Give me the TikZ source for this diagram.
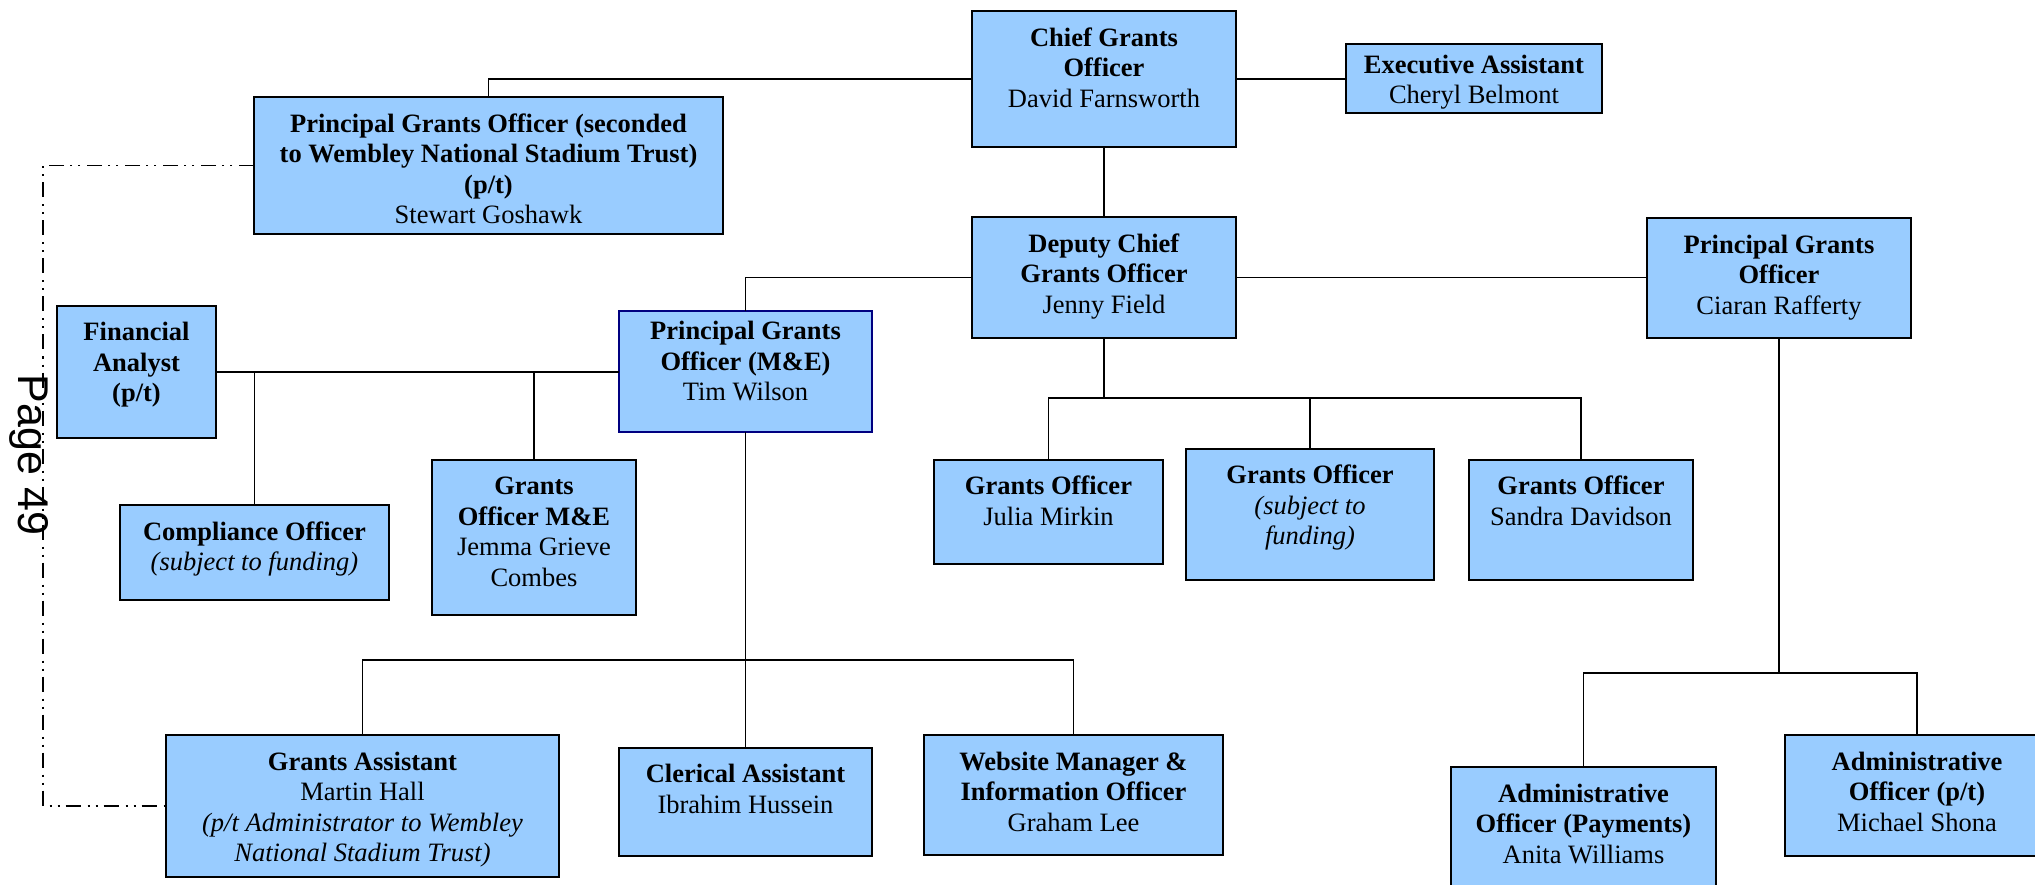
\documentclass[tikz,border=0pt]{standalone}
\usepackage{fontspec}
\setmainfont{Liberation Serif}
\newfontfamily\pagefont{Liberation Sans}
\definecolor{boxblue}{RGB}{153,204,255}
\definecolor{navyline}{RGB}{0,0,128}
\tikzset{
  ob/.style={draw=black, line width=2pt, fill=boxblue, inner sep=0pt, outer sep=0pt,
    font=\fontsize{26.5}{30.5}\selectfont},
  navyedge/.style={draw=navyline},
  plain/.style={},
  link/.style={draw=black, line width=1.6pt},
  dotlink/.style={draw=black, line width=1.6pt, dash pattern=on 15pt off 7pt on 2pt off 6pt on 2pt off 6pt},
}
% name, x1, y1, x2, y2, pad, style, text
\newcommand{\orgbox}[8]{%
  \node[ob,#7,anchor=north west] (#1) at (#2,#3)
    {\parbox[b][\dimexpr #5pt-#3pt\relax][t]{\dimexpr #4pt-#2pt\relax}{\centering\vspace*{#6pt}\strut #8}};%
}
\begin{document}
\begin{tikzpicture}[x=1pt,y=-1pt]
\useasboundingbox (0,0) rectangle (2035,885);
\fill[white] (0,0) rectangle (2035,885);
\clip (0,0) rectangle (2035,885);

\orgbox{chief}{972}{11}{1236}{147}{14}{plain}{\textbf{Chief Grants}\\\textbf{Officer}\\David Farnsworth}
\orgbox{exec}{1346}{44}{1602}{113}{8}{plain}{\textbf{Executive Assistant}\\Cheryl Belmont}
\orgbox{pgos}{254}{97}{723}{234}{14}{plain}{\textbf{Principal Grants Officer (seconded}\\\textbf{to Wembley National Stadium Trust)}\\\textbf{(p/t)}\\Stewart Goshawk}
\orgbox{deputy}{972}{217}{1236}{338}{14}{plain}{\textbf{Deputy Chief}\\\textbf{Grants Officer}\\Jenny Field}
\orgbox{pgoc}{1647}{218}{1911}{338}{14}{plain}{\textbf{Principal Grants}\\\textbf{Officer}\\Ciaran Rafferty}
\orgbox{fa}{57}{306}{216}{438}{13.5}{plain}{\textbf{Financial}\\\textbf{Analyst}\\\textbf{(p/t)}}
\orgbox{pgome}{619}{311}{872}{432}{7.5}{navyedge}{\textbf{Principal Grants}\\\textbf{Officer (M\&E)}\\Tim Wilson}
\orgbox{comp}{120}{505}{389}{600}{14}{plain}{\textbf{Compliance Officer}\\\textit{(subject to funding)}}
\orgbox{gome}{432}{460}{636}{615}{13.5}{plain}{\textbf{Grants}\\\textbf{Officer M\&E}\\Jemma Grieve\\Combes}
\orgbox{julia}{934}{460}{1163}{564}{13.5}{plain}{\textbf{Grants Officer}\\Julia Mirkin}
\orgbox{gosf}{1186}{449}{1434}{580}{13.5}{plain}{\textbf{Grants Officer}\\\textit{(subject to}\\\textit{funding)}}
\orgbox{sandra}{1469}{460}{1693}{580}{13.5}{plain}{\textbf{Grants Officer}\\Sandra Davidson}
\orgbox{ga}{166}{735}{559}{877}{14}{plain}{\textbf{Grants Assistant}\\Martin Hall\\\textit{(p/t Administrator to Wembley}\\\textit{National Stadium Trust)}}
\orgbox{cler}{619}{748}{872}{856}{13.5}{plain}{\textbf{Clerical Assistant}\\Ibrahim Hussein}
\orgbox{web}{924}{735}{1223}{855}{14}{plain}{\textbf{Website Manager \&}\\\textbf{Information Officer}\\Graham Lee}
\orgbox{aop}{1451}{767}{1716}{905}{14}{plain}{\textbf{Administrative}\\\textbf{Officer (Payments)}\\Anita Williams}
\orgbox{aopt}{1785}{735}{2049}{856}{14}{plain}{\textbf{Administrative}\\\textbf{Officer (p/t)}\\Michael Shona}

% connectors
\draw[link] (chief.west) -| (pgos.north);
\draw[link] (chief.east) -- (chief.east -| exec.west);
\draw[link] (chief.south) -- (deputy.north);
\draw[link] (deputy.west) -| (pgome.north);
\draw[link] (deputy.east) -- (deputy.east -| pgoc.west);
\draw[link] (fa.east) -- (fa.east -| pgome.west);
\draw[link] (comp.north) -- (comp.north |- fa.east);
\draw[link] (gome.north) -- (gome.north |- fa.east);
\draw[link] (pgome.south) -- (cler.north);
\coordinate (b1) at (745.5,660);
\draw[link] (ga.north) |- (b1) -| (web.north);
\coordinate (b2) at (1104,398);
\draw[link] (deputy.south) -- (b2);
\draw[link] (julia.north) |- (b2) -| (sandra.north);
\draw[link] (gosf.north) -- (gosf.north |- b2);
\coordinate (b3) at (1779,673);
\draw[link] (pgoc.south) -- (b3);
\draw[link] (aop.north) |- (b3) -| (aopt.north);
\coordinate (d1) at (43,0);
\draw[dotlink] (pgos.west) -- (pgos.west -| d1) -- (ga.west -| d1) -- (ga.west);

\node[rotate=-90, inner sep=0pt, font=\fontsize{43}{50}\selectfont\pagefont] (pg) at (29,455) {Page 49};
\end{tikzpicture}
\end{document}
